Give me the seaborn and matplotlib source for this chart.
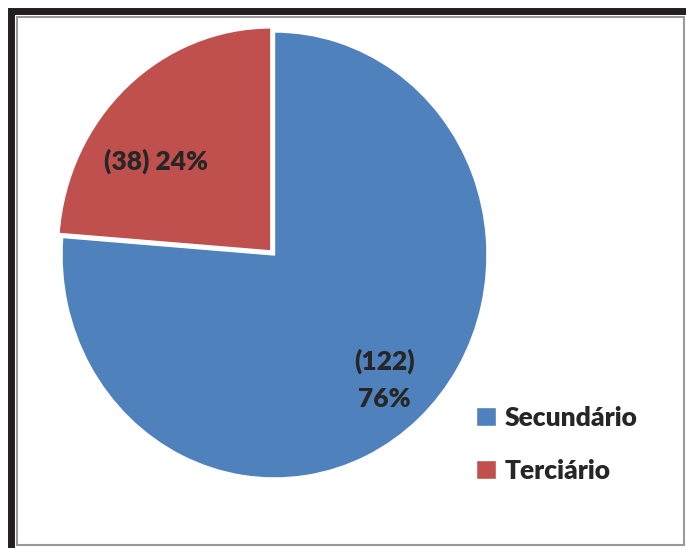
import matplotlib.pyplot as plt
import matplotlib.patches as mpatches
import seaborn as sns

categories = ["Secundário", "Terciário"]
counts = [122, 38]
colors = ["#4F81BD", "#C0504D"]

sns.set_theme(style="white")
plt.rcParams["font.family"] = ["Lato", "DejaVu Sans"]

W, H = 686, 548
fig = plt.figure(figsize=(W / 100, H / 100), dpi=100)
fig.patch.set_facecolor("white")

# frame: thick black outer border, thin grey inner line
fig.patches.append(mpatches.Rectangle((11 / W, -0.05), 1.2, (H - 11) / H + 0.05,
                                      transform=fig.transFigure, fill=False,
                                      edgecolor="#231f20", linewidth=5.0))
fig.patches.append(mpatches.Rectangle((17 / W, 3 / H), (W - 19) / W, (H - 20) / H,
                                      transform=fig.transFigure, fill=False,
                                      edgecolor="#9a9a9a", linewidth=1.5))

# pie axes (slightly taller than wide, as in the reference)
ax = fig.add_axes([62 / W, 70 / H, 425 / W, 446 / H])
total = sum(counts)


def fmt(pct):
    n = int(round(pct * total / 100))
    return f"({n})\n{pct:.0f}%"


wedges, texts, autotexts = ax.pie(
    counts, colors=colors, startangle=90, counterclock=False,
    explode=[0, 0.025], autopct=fmt, pctdistance=0.76,
    wedgeprops=dict(edgecolor="white", linewidth=1.0),
    textprops=dict(fontsize=19, fontweight="heavy", color="#262626"),
)
ax.set_aspect("auto")
ax.set_xlim(-1, 1)
ax.set_ylim(-1, 1)
ax.axis("off")

autotexts[0].set_linespacing(1.65)
# red label sits on one line, further out than the wedge centre
autotexts[1].set_text(autotexts[1].get_text().replace("\n", " "))
autotexts[1].set_position((-0.56, 0.42))

fig.legend(wedges, categories, loc="upper left", bbox_to_anchor=(452 / W, 1 - 382 / H),
           frameon=False, prop=dict(weight="heavy", size=19),
           handlelength=0.75, handleheight=0.75, handletextpad=0.35,
           labelspacing=1.1, labelcolor="#262626")

fig.savefig("out.png", dpi=100)
